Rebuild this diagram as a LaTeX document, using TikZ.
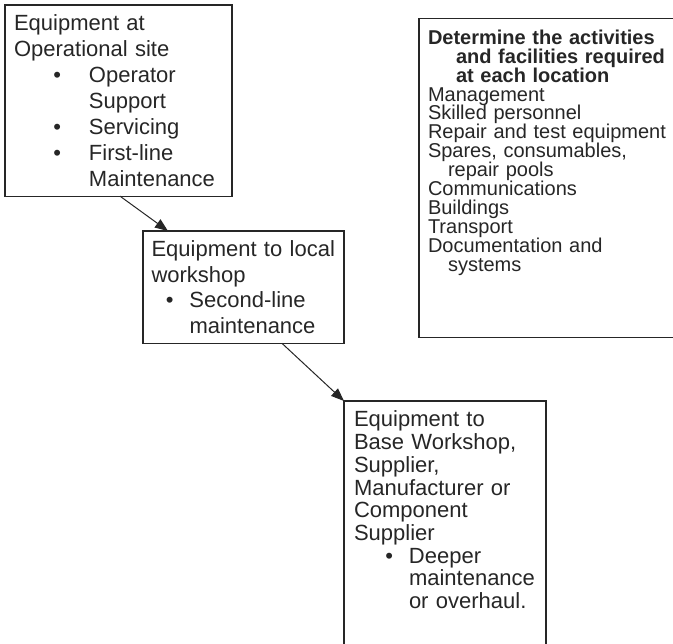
\documentclass[tikz,border=0pt]{standalone}
\usepackage{fontspec}
\setmainfont{Liberation Sans}
\usetikzlibrary{arrows.meta}
\definecolor{ink}{HTML}{262626}
% puce : retrait du texte, ecart puce-texte, texte
\newcommand{\bulletitem}[3]{\par{\leftskip=#1\relax\noindent\llap{\textbullet\hspace{#2}}#3\par}}
% ligne en retrait suspendu
\newcommand{\hangline}[2]{\par{\leftskip=#1\relax\noindent\hspace*{-#1}#2\par}}
\tikzset{
  box/.style={draw=ink, line width=1.1pt, anchor=north west, align=left,
    text=ink, outer sep=0pt},
  flow/.style={draw=ink, line width=1pt, -{Triangle[length=13pt,width=10pt]}}
}
\begin{document}
\lineskiplimit=-5pt
\begin{tikzpicture}
\useasboundingbox (0,0) rectangle (673pt,-644pt);
%Niveaux de maintenance
\node[box, text width=209pt, inner xsep=9pt, inner ysep=9.5pt,
  font=\fontsize{22}{26}\selectfont] (site) at (5pt,-5pt)
  {Equipment at\newline Operational site
   \bulletitem{75pt}{28pt}{Operator\newline Support}
   \bulletitem{75pt}{28pt}{Servicing}
   \bulletitem{75pt}{28pt}{First-line\newline Maintenance}};
\node[box, text width=184pt, inner xsep=8.5pt, inner ysep=9.7pt,
  font=\fontsize{22}{25.6}\selectfont] (workshop) at (143pt,-231pt)
  {Equipment to local\newline workshop
   \bulletitem{38pt}{16pt}{Second-line\newline maintenance}};
\node[box, text width=182pt, inner xsep=10pt, inner ysep=10pt,
  font=\fontsize{22}{22.7}\selectfont] (base) at (344pt,-401pt)
  {Equipment to\newline Base Workshop,\newline Supplier,\newline
   Manufacturer or\newline Component\newline Supplier
   \bulletitem{55pt}{16pt}{Deeper\newline maintenance\newline or overhaul.}
   \vspace{40pt}};
%Activites et moyens
\node[box, text width=260pt, inner xsep=9pt, inner ysep=7pt,
  font=\fontsize{20}{18.9}\selectfont] (needs) at (419pt,-18.5pt)
  {\hangline{28pt}{\textbf{Determine the activities\newline and facilities required\newline at each location}}
   Management\par Skilled personnel\par Repair and test equipment
   \hangline{20pt}{Spares, consumables,\newline repair pools}
   Communications\par Buildings\par Transport
   \hangline{20pt}{Documentation and\newline systems}
   \vspace{55pt}};
%Fleches
\draw[flow] ([xshift=115pt]site.south west) -- ([xshift=25pt]workshop.north west);
\draw[flow] ([xshift=139pt]workshop.south west) -- (base.north west);
\end{tikzpicture}
\end{document}
